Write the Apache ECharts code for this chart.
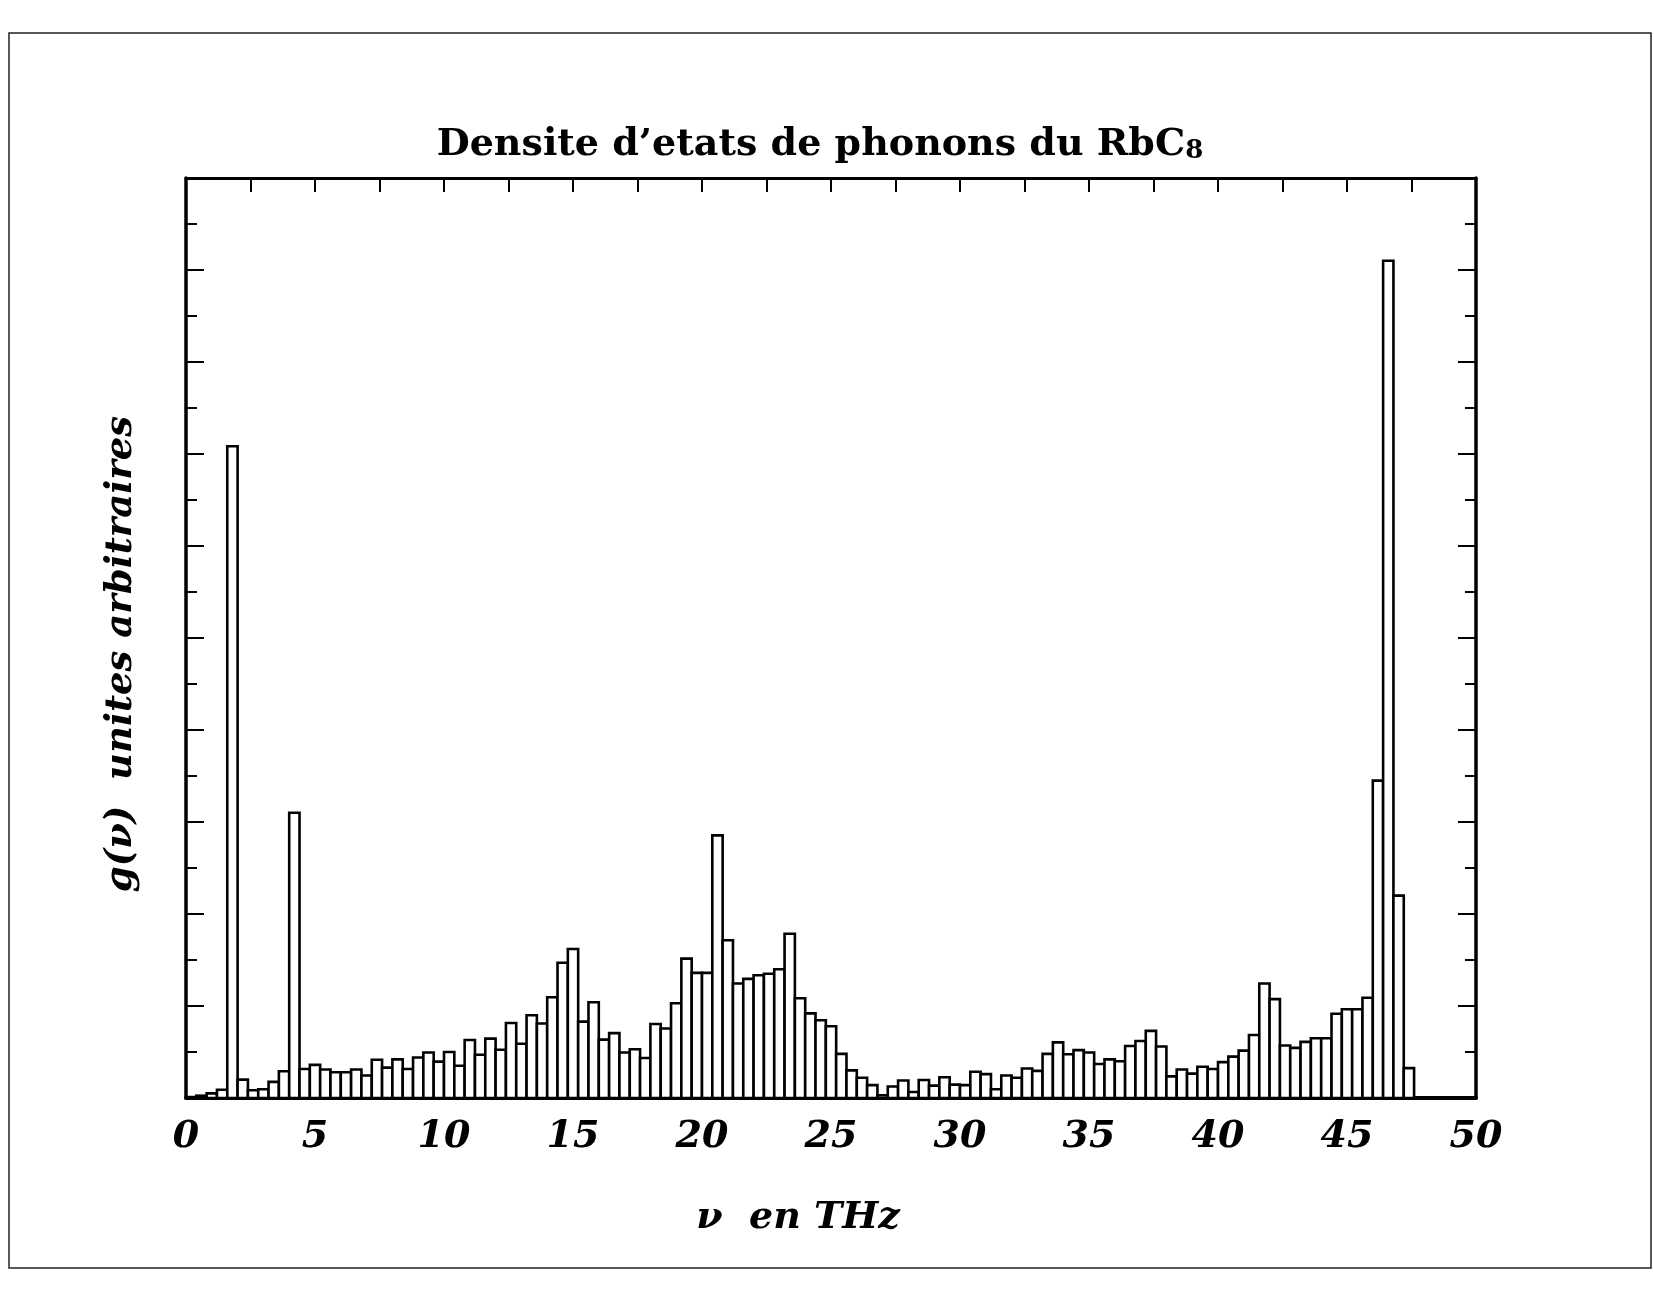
<!DOCTYPE html>
<html>
<head>
<meta charset="utf-8">
<script src="https://cdn.jsdelivr.net/npm/echarts@6/dist/echarts.min.js"></script>
<style>
  html, body { margin: 0; padding: 0; background: #ffffff; }
  #chart { width: 1654px; height: 1293px; }
</style>
</head>
<body>
<div id="chart"></div>
<script>
// Phonon density of states of RbC8, histogram with 0.4 THz bins starting at 0 THz
const titleMain = "Densite d\u2019etats de phonons du RbC";
const titleSub = "8";
const xAxisName = "\u03bd  en THz";
const yAxisName = "g(\u03bd)  unites arbitraires";
const xTickLabels = [0, 5, 10, 15, 20, 25, 30, 35, 40, 45, 50];
const binWidth = 0.4; // THz

// g(nu), arbitrary units, one value per bin
const density = [
  0.02, 0.05, 0.10, 0.18, 14.17, 0.40, 0.17, 0.19, 0.35, 0.58,
  6.20, 0.63, 0.72, 0.62, 0.56, 0.56, 0.62, 0.49, 0.83, 0.66,
  0.84, 0.63, 0.88, 0.99, 0.79, 1.00, 0.70, 1.26, 0.94, 1.29,
  1.05, 1.63, 1.18, 1.80, 1.62, 2.19, 2.94, 3.24, 1.66, 2.08,
  1.27, 1.41, 0.99, 1.06, 0.87, 1.61, 1.51, 2.06, 3.03, 2.72,
  2.72, 5.71, 3.43, 2.49, 2.59, 2.67, 2.70, 2.80, 3.57, 2.17,
  1.84, 1.69, 1.56, 0.96, 0.60, 0.44, 0.28, 0.06, 0.25, 0.38,
  0.13, 0.39, 0.27, 0.45, 0.29, 0.28, 0.57, 0.52, 0.19, 0.49,
  0.44, 0.64, 0.59, 0.96, 1.21, 0.95, 1.04, 0.99, 0.74, 0.84,
  0.80, 1.13, 1.24, 1.46, 1.12, 0.47, 0.62, 0.53, 0.68, 0.63,
  0.78, 0.90, 1.03, 1.37, 2.49, 2.15, 1.14, 1.09, 1.22, 1.30,
  1.30, 1.83, 1.93, 1.93, 2.18, 6.90, 18.20, 4.40, 0.65
];

// [bin start, bin end, height]
const bins = density.map((g, i) => [
  +(i * binWidth).toFixed(2),
  +((i + 1) * binWidth).toFixed(2),
  g
]);

const serifItalic = {
  fontFamily: "DejaVu Serif",
  fontStyle: "italic",
  fontWeight: "bold",
  color: "#000"
};

const chart = echarts.init(document.getElementById("chart"), null, { renderer: "canvas" });

chart.setOption({
  backgroundColor: "#ffffff",
  animation: false,
  title: {
    text: "{t|" + titleMain + "}{s|" + titleSub + "}",
    left: 815,
    top: 113,
    textAlign: "center",
    textStyle: {
      rich: {
        t: { fontFamily: "DejaVu Serif", fontWeight: "bold", fontSize: 38, color: "#000",
             lineHeight: 46, verticalAlign: "bottom" },
        s: { fontFamily: "DejaVu Serif", fontWeight: "bold", fontSize: 26, color: "#000",
             lineHeight: 26, verticalAlign: "bottom" }
      }
    }
  },
  graphic: [{
    type: "rect",
    shape: { x: 9, y: 33, width: 1642, height: 1235 },
    style: { fill: null, stroke: "#222", lineWidth: 1.5 },
    silent: true,
    z: -1
  }],
  grid: { left: 186, right: 178, top: 178, bottom: 195, containLabel: false },
  xAxis: [{
    type: "value",
    position: "bottom",
    min: 0, max: 50, interval: 5,
    name: xAxisName,
    nameLocation: "middle",
    nameGap: 101,
    nameTextStyle: Object.assign({ fontSize: 38, padding: [0, 66, 0, 0] }, serifItalic),
    axisLine: { show: true, onZero: false, lineStyle: { color: "#000", width: 4 } },
    axisTick: { show: false },
    splitLine: { show: false },
    axisLabel: Object.assign({
      fontSize: 38, margin: 20,
      formatter: v => (xTickLabels.includes(v) ? String(v) : "")
    }, serifItalic)
  }, {
    type: "value",
    position: "top",
    min: 0, max: 50, interval: 2.5,
    axisLine: { show: true, onZero: false, lineStyle: { color: "#000", width: 3 } },
    axisTick: { show: true, inside: true, length: 14, lineStyle: { color: "#000", width: 2 } },
    axisLabel: { show: false },
    splitLine: { show: false }
  }],
  yAxis: [{
    type: "value",
    position: "left",
    min: 0, max: 20, interval: 2,
    name: yAxisName,
    nameLocation: "middle",
    nameGap: 46,
    nameRotate: 90,
    nameTextStyle: Object.assign({ fontSize: 37, padding: [0, 32, 0, 0] }, serifItalic),
    axisLine: { show: true, onZero: false, lineStyle: { color: "#000", width: 3.5 } },
    axisTick: { show: true, inside: true, length: 18, lineStyle: { color: "#000", width: 2 } },
    minorTick: { show: true, splitNumber: 2, length: 11, lineStyle: { color: "#000", width: 2 } },
    axisLabel: { show: false },
    splitLine: { show: false }
  }, {
    type: "value",
    position: "right",
    min: 0, max: 20, interval: 2,
    axisLine: { show: true, onZero: false, lineStyle: { color: "#000", width: 3.5 } },
    axisTick: { show: true, inside: true, length: 18, lineStyle: { color: "#000", width: 2 } },
    minorTick: { show: true, splitNumber: 2, length: 11, lineStyle: { color: "#000", width: 2 } },
    axisLabel: { show: false },
    splitLine: { show: false }
  }],
  series: [{
    type: "custom",
    name: "g(\u03bd)",
    xAxisIndex: 0,
    yAxisIndex: 0,
    data: bins,
    encode: { x: [0, 1], y: 2 },
    clip: true,
    renderItem: function (params, api) {
      const x0 = api.value(0), x1 = api.value(1), g = api.value(2);
      const base = api.coord([x0, 0]);
      const top = api.coord([x1, g]);
      return {
        type: "rect",
        shape: { x: base[0], y: top[1], width: top[0] - base[0], height: base[1] - top[1] },
        style: { fill: "#ffffff", stroke: "#000000", lineWidth: 2.6 }
      };
    }
  }]
});
</script>
</body>
</html>
